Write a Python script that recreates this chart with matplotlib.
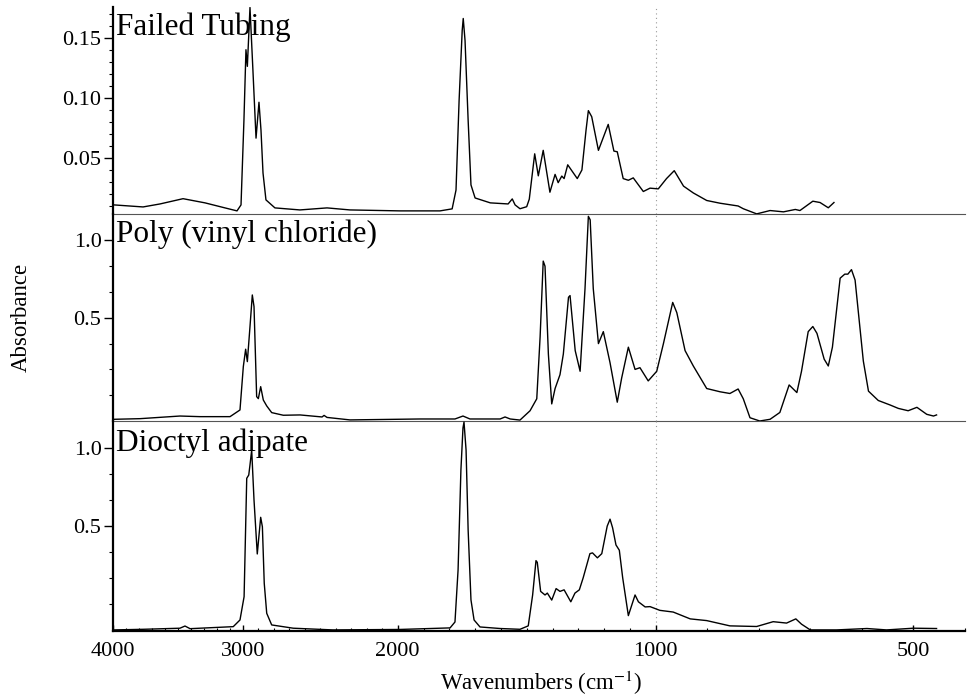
import numpy as np
import matplotlib
matplotlib.use("Agg")
import matplotlib.pyplot as plt

plt.rcParams['font.family'] = ['Liberation Serif', 'DejaVu Serif']
plt.rcParams['mathtext.fontset'] = 'stix'

# ---------------- data (wavenumber in cm-1, absorbance) ----------------
tubing_wn = [3995, 3770, 3639, 3461, 3291, 3137, 3044, 3013, 2992, 2979, 2970, 2953, 2934, 2914, 2895, 2882,
             2869, 2850, 2792, 2631, 2456, 2308, 1991, 1836, 1789, 1774, 1762, 1750, 1746, 1739, 1727, 1716,
             1700, 1641, 1572, 1556, 1545, 1526, 1500, 1490, 1469, 1455, 1436, 1410, 1390, 1378, 1364, 1355,
             1341, 1304, 1286, 1270, 1261, 1248, 1222, 1184, 1162, 1149, 1126, 1106, 1087, 1048, 1022, 995,
             979, 964, 946, 927, 901, 875, 840, 830, 804, 778, 752, 729, 720, 695, 681, 665, 654]
tubing_abs = [0.0106, 0.0089, 0.0114, 0.0158, 0.0123, 0.0081, 0.0056, 0.0106, 0.0814, 0.1403, 0.1264, 0.1756,
              0.123, 0.0664, 0.0964, 0.073, 0.0373, 0.0148, 0.0081, 0.0064, 0.0081, 0.0064, 0.0056, 0.0056,
              0.0073, 0.023, 0.098, 0.1564, 0.1664, 0.148, 0.0814, 0.0273, 0.0164, 0.0123, 0.0114, 0.0156,
              0.0106, 0.0074, 0.0091, 0.0154, 0.0533, 0.0349, 0.0562, 0.0212, 0.0361, 0.0292, 0.0347, 0.0326,
              0.0441, 0.0326, 0.0398, 0.0731, 0.0894, 0.0843, 0.0562, 0.0779, 0.0556, 0.055, 0.0326, 0.0312,
              0.0332, 0.0218, 0.0246, 0.024, 0.0326, 0.0392, 0.0263, 0.0206, 0.0143, 0.012, 0.0097, 0.0074,
              0.0031, 0.0059, 0.0048, 0.0068, 0.0059, 0.0137, 0.0126, 0.0082, 0.0126]

pvc_wn = [3992, 3794, 3485, 3330, 3098, 3021, 2996, 2981, 2970, 2953, 2938, 2927, 2910, 2899, 2884, 2867,
          2845, 2813, 2738, 2630, 2488, 2475, 2456, 2308, 1914, 1778, 1747, 1720, 1603, 1584, 1564, 1526,
          1487, 1461, 1448, 1436, 1429, 1416, 1403, 1390, 1371, 1358, 1338, 1332, 1312, 1293, 1274, 1261,
          1254, 1242, 1222, 1203, 1177, 1149, 1132, 1106, 1080, 1061, 1029, 998, 985, 967, 959, 943, 927,
          901, 875, 856, 840, 830, 817, 798, 778, 759, 741, 726, 717, 704, 695, 687, 673, 665, 657, 642,
          633, 627, 620, 613, 597, 587, 568, 545, 529, 510, 493, 474, 461, 455]
pvc_abs = [-0.154, -0.150, -0.133, -0.137, -0.137, -0.094, 0.185, 0.297, 0.217, 0.442, 0.646, 0.571, -0.008,
           -0.021, 0.056, -0.030, -0.068, -0.111, -0.128, -0.126, -0.139, -0.129, -0.142, -0.158, -0.152,
           -0.152, -0.133, -0.152, -0.152, -0.139, -0.152, -0.159, -0.099, -0.022, 0.377, 0.864, 0.831,
           0.266, -0.055, 0.044, 0.133, 0.266, 0.631, 0.642, 0.288, 0.155, 0.687, 1.152, 1.130, 0.687,
           0.333, 0.410, 0.210, -0.044, 0.111, 0.310, 0.167, 0.178, 0.093, 0.155, 0.333, 0.598, 0.532,
           0.288, 0.189, 0.044, 0.023, 0.012, 0.041, -0.022, -0.144, -0.165, -0.154, -0.110, 0.067, 0.018,
           0.155, 0.410, 0.443, 0.399, 0.233, 0.189, 0.310, 0.754, 0.780, 0.780, 0.809, 0.742, 0.221, 0.027,
           -0.033, -0.062, -0.084, -0.099, -0.077, -0.122, -0.133, -0.126]

doa_wn = [3992, 3768, 3485, 3446, 3407, 3073, 3021, 2991, 2974, 2961, 2953, 2942, 2927, 2906, 2884, 2873,
          2861, 2845, 2813, 2674, 2418, 1991, 1797, 1778, 1766, 1755, 1747, 1743, 1735, 1727, 1716, 1704,
          1681, 1603, 1526, 1494, 1477, 1464, 1459, 1446, 1429, 1420, 1403, 1386, 1371, 1355, 1329, 1313,
          1296, 1281, 1255, 1245, 1226, 1209, 1188, 1177, 1167, 1154, 1141, 1128, 1106, 1080, 1067, 1041,
          1022, 992, 966, 933, 901, 856, 804, 772, 746, 728, 717, 700, 649, 590, 552, 500, 455]
doa_abs = [-0.169, -0.165, -0.158, -0.144, -0.161, -0.148, -0.105, 0.045, 0.807, 0.828, 0.893, 0.989, 0.667,
           0.320, 0.556, 0.495, 0.131, -0.062, -0.137, -0.158, -0.169, -0.166, -0.156, -0.118, 0.217, 0.860,
           1.131, 1.169, 0.989, 0.474, 0.024, -0.105, -0.150, -0.160, -0.165, -0.143, 0.056, 0.277, 0.266,
           0.079, 0.056, 0.068, 0.023, 0.097, 0.079, 0.089, 0.012, 0.068, 0.089, 0.167, 0.322, 0.327, 0.295,
           0.322, 0.499, 0.544, 0.488, 0.378, 0.344, 0.167, -0.077, 0.056, 0.012, -0.021, -0.019, -0.043,
           -0.054, -0.098, -0.109, -0.143, -0.147, -0.116, -0.125, -0.098, -0.132, -0.169, -0.169, -0.160,
           -0.169, -0.158, -0.160]

panel_titles = ["Failed Tubing", "Poly (vinyl chloride)", "Dioctyl adipate"]
x_major = [4000, 3000, 2000, 1000, 500]
x_major_labels = ["4000", "3000", "2000", "1000", "500"]
top_yticks = [0.05, 0.10, 0.15]
top_ylabels = ["0.05", "0.10", "0.15"]
low_yticks = [0.5, 1.0]
low_ylabels = ["0.5", "1.0"]

# ---------------- non-linear wavenumber axis (piecewise, increasing) ----------------
SCALE_WN = np.array([400., 500., 1000., 2000., 3000., 4000.])
SCALE_POS = np.array([0.0, 51.7, 309.3, 567.3, 722.3, 851.7])


def fwd(w):
    return np.interp(np.asarray(w, dtype=float), SCALE_WN, SCALE_POS)


def inv(p):
    return np.interp(np.asarray(p, dtype=float), SCALE_POS, SCALE_WN)


fig = plt.figure(figsize=(9.74, 6.96), dpi=100)
L, W = 113.3 / 974, 851.7 / 974
rects = [
    [L, (696 - 214) / 696, W, 207 / 696],
    [L, (696 - 421) / 696, W, 207 / 696],
    [L, (696 - 631) / 696, W, 210 / 696],
]
ylims = [(0.003, 0.176), (-0.165, 1.167), (-0.176, 1.176)]
title_y = [0.865, 0.866, 0.859]
series = [(tubing_wn, tubing_abs), (pvc_wn, pvc_abs), (doa_wn, doa_abs)]

for i, (rect, (wn, ab)) in enumerate(zip(rects, series)):
    ax = fig.add_axes(rect)
    ax.set_xscale('function', functions=(fwd, inv))
    ax.set_xlim(4000, 400)
    ax.set_ylim(*ylims[i])
    ax.axvline(1000, color='#9a9a9a', ls=(0, (1, 3)), lw=0.8, zorder=1)
    ax.plot(wn, ab, color='black', lw=1.0, zorder=3)
    ax.patch.set_visible(False)
    for s in ['top', 'right']:
        ax.spines[s].set_visible(False)
    ax.spines['left'].set_linewidth(1.6)
    if i < 2:
        ax.spines['bottom'].set_linewidth(0.8)
        ax.spines['bottom'].set_color('#555555')
        ax.tick_params(axis='x', which='both', bottom=False, labelbottom=False)
    else:
        ax.spines['bottom'].set_linewidth(1.6)
        ax.set_xticks(x_major, labels=x_major_labels)
        ax.set_xticks([v for v in range(400, 4001, 100) if v not in x_major], minor=True)
        ax.tick_params(axis='x', which='major', direction='in', length=4, width=1, pad=8, labelsize=16)
        ax.tick_params(axis='x', which='minor', direction='in', length=2, width=0.8)
    if i == 0:
        ax.set_yticks(top_yticks, labels=top_ylabels)
        ax.set_yticks([v / 100 for v in range(1, 18) if v % 5 != 0], minor=True)
    else:
        ax.set_yticks(low_yticks, labels=low_ylabels)
        ax.set_yticks([0.0, 1 / 6, 1 / 3, 2 / 3, 5 / 6], minor=True)
    ax.tick_params(axis='y', which='major', direction='out', length=6.5, width=1, pad=2, labelsize=16)
    ax.tick_params(axis='y', which='minor', direction='out', length=3, width=0.8)
    ax.text(0.003, title_y[i], panel_titles[i], transform=ax.transAxes, fontsize=22.5,
            ha='left', va='baseline', zorder=2)

fig.text(21 / 974, 1 - 317.5 / 696, 'Absorbance', rotation=90, ha='center', va='center', fontsize=16.5)
fig.text(541 / 974, 1 - 690 / 696, 'Wavenumbers (cm$^{-1}$)', ha='center', va='baseline', fontsize=16.5)

fig.savefig('out.png', dpi=100)
